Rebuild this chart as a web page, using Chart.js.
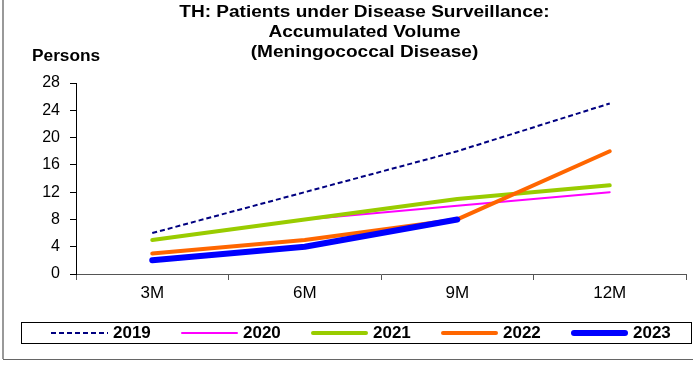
<!DOCTYPE html>
<html>
<head>
<meta charset="utf-8">
<script src="https://cdn.jsdelivr.net/npm/chart.js@4/dist/chart.umd.min.js"></script>
<style>
  html, body { margin: 0; padding: 0; background: #fff; }
  canvas { display: block; }
</style>
</head>
<body>
<canvas id="surveillance-chart" width="693" height="365"></canvas>
<script>
'use strict';

// Accumulated case counts per quarter
const categories = ['3M', '6M', '9M', '12M'];
const years = ['2019', '2020', '2021', '2022', '2023'];
const cases2019 = [6, 12, 18, 25];
const cases2020 = [5, 8, 10, 12];
const cases2021 = [5, 8, 11, 13];
const cases2022 = [3, 5, 8, 18];
const cases2023 = [2, 4, 8, null];
const yTickValues = [0, 4, 8, 12, 16, 20, 24, 28];

const titleLines = [
    'TH: Patients under Disease Surveillance:',
    'Accumulated Volume',
    '(Meningococcal Disease)'
];
const yAxisLabel = 'Persons';

const FONT = "'Liberation Sans', Arial, Helvetica, sans-serif";

// Line look for each year (drawing order: 2023 on top)
const lineStyles = {
    '2019': { color: '#000080', width: 2, dash: [5, 3], cap: 'butt', order: 4 },
    '2020': { color: '#FF00FF', width: 2, dash: [], cap: 'round', order: 3 },
    '2021': { color: '#99CC00', width: 4, dash: [], cap: 'round', order: 2 },
    '2022': { color: '#FF6600', width: 4, dash: [], cap: 'round', order: 1 },
    '2023': { color: '#0000FF', width: 6, dash: [], cap: 'round', order: 0 }
};

const seriesValues = [cases2019, cases2020, cases2021, cases2022, cases2023];

const datasets = years.map(function(year, i) {
    const st = lineStyles[year];
    return {
        label: year,
        data: seriesValues[i],
        borderColor: st.color,
        backgroundColor: st.color,
        borderWidth: st.width,
        borderDash: st.dash,
        borderCapStyle: st.cap,
        borderJoinStyle: 'round',
        pointRadius: 0,
        pointHoverRadius: 0,
        tension: 0,
        fill: false,
        spanGaps: false,
        order: st.order
    };
});

// Stretched text helper (the titles are drawn a bit wide)
function wideText(ctx, text, x, y, sx) {
    ctx.save();
    ctx.translate(x, y);
    ctx.scale(sx, 1);
    ctx.fillText(text, 0, 0);
    ctx.restore();
}

const decorPlugin = {
    id: 'decor',
    beforeDraw(chart) {
        const ctx = chart.ctx;
        ctx.save();
        ctx.fillStyle = '#fff';
        ctx.fillRect(0, 0, chart.width, chart.height);
        ctx.restore();
    },
    afterDraw(chart) {
        const ctx = chart.ctx;
        ctx.save();

        // outer frame
        ctx.strokeStyle = '#999';
        ctx.lineWidth = 2;
        ctx.beginPath();
        ctx.moveTo(3, 0);
        ctx.lineTo(3, 359);
        ctx.stroke();
        ctx.strokeStyle = '#666';
        ctx.lineWidth = 1;
        ctx.beginPath();
        ctx.moveTo(3, 359.5);
        ctx.lineTo(693, 359.5);
        ctx.stroke();

        // title
        ctx.fillStyle = '#000';
        ctx.font = 'bold 16px ' + FONT;
        ctx.textAlign = 'center';
        ctx.textBaseline = 'middle';
        titleLines.forEach(function(line, i) {
            wideText(ctx, line, 364.5, 13 + i * 20, 1.19);
        });

        // y axis caption
        ctx.textAlign = 'left';
        ctx.font = 'bold 16px ' + FONT;
        wideText(ctx, yAxisLabel, 32, 57, 1.08);

        // legend box
        ctx.strokeStyle = '#000';
        ctx.lineWidth = 1;
        ctx.strokeRect(21.5, 322.5, 670, 21);

        ctx.font = 'bold 17px ' + FONT;
        ctx.textBaseline = 'middle';
        chart.data.datasets.forEach(function(ds, i) {
            const x0 = 51 + i * 130;
            ctx.save();
            ctx.strokeStyle = ds.borderColor;
            ctx.lineWidth = ds.borderWidth;
            ctx.setLineDash(ds.borderDash);
            ctx.lineCap = ds.borderCapStyle;
            ctx.beginPath();
            ctx.moveTo(x0 + (ds.borderCapStyle === 'round' ? ds.borderWidth / 2 : 0), 333);
            ctx.lineTo(x0 + 57 - (ds.borderCapStyle === 'round' ? ds.borderWidth / 2 : 0), 333);
            ctx.stroke();
            ctx.restore();
            ctx.fillStyle = '#000';
            ctx.fillText(ds.label, x0 + 62, 333);
        });

        ctx.restore();
    }
};

const ctx = document.getElementById('surveillance-chart').getContext('2d');
new Chart(ctx, {
    type: 'line',
    data: {
        labels: categories,
        datasets: datasets
    },
    options: {
        responsive: false,
        animation: false,
        events: [],
        layout: {
            padding: { left: 0, top: 83, right: 7, bottom: 51 }
        },
        plugins: {
            legend: { display: false },
            title: { display: false },
            tooltip: { enabled: false }
        },
        scales: {
            x: {
                offset: true,
                grid: {
                    offset: true,
                    drawOnChartArea: false,
                    drawTicks: true,
                    tickLength: 6,
                    color: '#555'
                },
                border: { color: '#555', width: 1 },
                ticks: {
                    color: '#000',
                    font: { family: FONT, size: 17 },
                    padding: 3,
                    maxRotation: 0
                },
                afterFit: function(scale) {
                    scale.height = 40;
                }
            },
            y: {
                min: yTickValues[0],
                max: yTickValues[yTickValues.length - 1],
                ticks: {
                    stepSize: yTickValues[1] - yTickValues[0],
                    color: '#000',
                    font: { family: FONT, size: 16 },
                    padding: 10
                },
                grid: {
                    drawOnChartArea: false,
                    drawTicks: true,
                    tickLength: 6,
                    color: '#000'
                },
                border: { color: '#000', width: 1 },
                afterFit: function(scale) {
                    scale.width = 76;
                }
            }
        }
    },
    plugins: [decorPlugin]
});
</script>
</body>
</html>
